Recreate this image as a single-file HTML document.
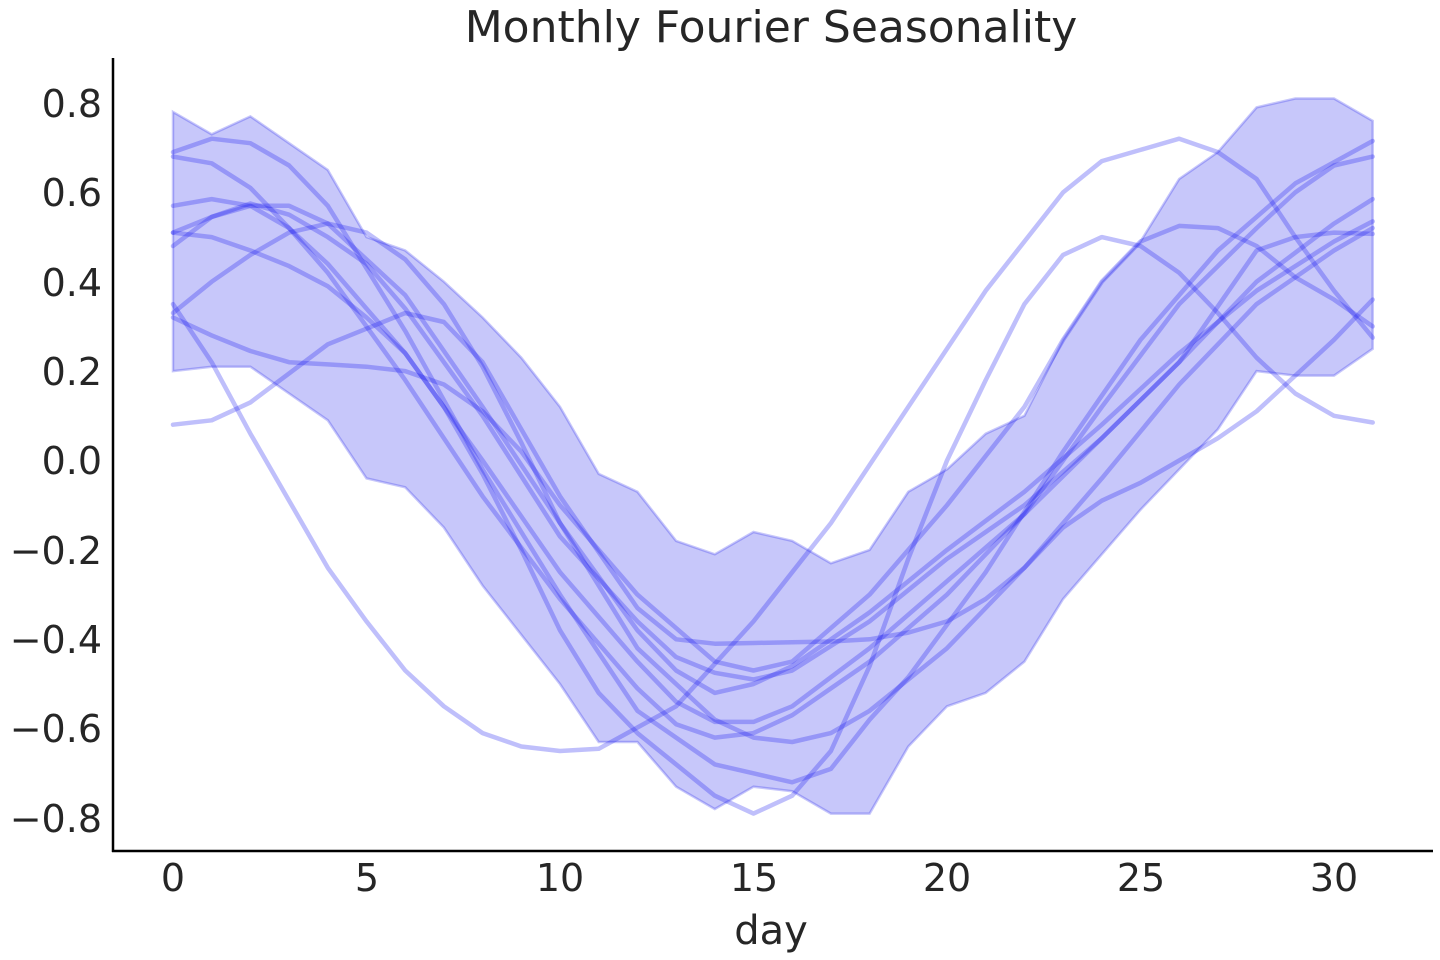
<!DOCTYPE html>
<html><head><meta charset="utf-8"><style>
html,body{margin:0;padding:0;background:#fff;}
svg{display:block;font-family:"DejaVu Sans","Liberation Sans",sans-serif;}
</style></head><body>
<svg id="s" width="1440" height="960" viewBox="0 0 1440 960" xmlns="http://www.w3.org/2000/svg">
<rect width="1440" height="960" fill="#fff"/>
<g id="plot"></g>
<line x1="113" y1="58" x2="113" y2="852" stroke="#000" stroke-width="2.5"/>
<line x1="112" y1="851" x2="1433" y2="851" stroke="#000" stroke-width="2.5"/>
<text x="771" y="42" font-size="44" text-anchor="middle" fill="#262626">Monthly Fourier Seasonality</text>
<text x="771" y="944" font-size="40" text-anchor="middle" fill="#262626">day</text>
<g font-size="38" fill="#262626" text-anchor="middle">
<text x="173" y="891">0</text><text x="367" y="891">5</text><text x="560" y="891">10</text>
<text x="754" y="891">15</text><text x="947" y="891">20</text><text x="1141" y="891">25</text><text x="1334" y="891">30</text>
</g>
<g font-size="38" fill="#262626" text-anchor="end">
<text x="102" y="117">0.8</text><text x="102" y="206">0.6</text><text x="102" y="296">0.4</text>
<text x="102" y="385">0.2</text><text x="102" y="474">0.0</text><text x="102" y="564">−0.2</text>
<text x="102" y="653">−0.4</text><text x="102" y="742">−0.6</text><text x="102" y="832">−0.8</text>
</g>
</svg>
<script>
(function(){
var X=function(d){return 173+d*38.7;},Y=function(v){return 460.5-v*446.9;};
var top=[.78,.73,.77,.71,.65,.50,.47,.40,.32,.23,.12,-.03,-.07,-.18,-.21,-.16,-.18,-.23,-.20,-.07,-.02,.06,.10,.27,.40,.49,.63,.69,.79,.81,.81,.76];
var bot=[.20,.21,.21,.15,.09,-.04,-.06,-.15,-.28,-.39,-.50,-.63,-.63,-.73,-.78,-.73,-.74,-.79,-.79,-.64,-.55,-.52,-.45,-.31,-.21,-.11,-.02,.07,.20,.19,.19,.25];
var L=[
[[0,.35],[1,.22],[2,.06],[3,-.09],[4,-.24],[5,-.36],[6,-.47],[7,-.55],[8,-.61],[9,-.64],[10,-.65],[11,-.645],[13,-.55],[15,-.36],[17,-.14],[19,.12],[21,.38],[23,.60],[24,.67],[26,.72],[27,.69],[28,.63],[29,.5],[30,.38],[31,.275]],
[[0,.08],[1,.09],[2,.13],[4,.26],[6,.33],[7,.31],[8,.22],[10,-.08],[12,-.33],[13,-.40],[14,-.41],[17,-.405],[18,-.40],[19,-.385],[20,-.36],[21,-.31],[22,-.24],[23,-.15],[24,-.09],[25,-.05],[26,0],[27,.05],[28,.11],[29,.19],[30,.27],[31,.36]],
[[0,.69],[1,.72],[2,.71],[3,.66],[4,.57],[6,.29],[8,-.02],[10,-.30],[12,-.56],[14,-.68],[16,-.72],[17,-.69],[18,-.58],[19,-.485],[21,-.25],[23,.02],[25,.27],[27,.47],[29,.62],[31,.715]],
[[0,.68],[1,.665],[2,.61],[3,.52],[4,.42],[6,.18],[8,-.08],[10,-.31],[12,-.51],[13,-.59],[14,-.62],[15,-.61],[16,-.57],[18,-.45],[20,-.3],[22,-.12],[24,.12],[26,.35],[28,.52],[29,.6],[30,.66],[31,.68]],
[[0,.57],[1,.585],[2,.57],[3,.52],[4,.44],[6,.24],[8,0],[10,-.25],[12,-.45],[13,-.54],[14,-.585],[15,-.585],[16,-.55],[18,-.42],[20,-.27],[22,-.12],[24,.05],[26,.22],[28,.4],[30,.53],[31,.585]],
[[0,.51],[1,.545],[2,.57],[3,.57],[4,.53],[6,.37],[8,.12],[10,-.14],[12,-.38],[13,-.47],[14,-.52],[15,-.5],[16,-.46],[18,-.34],[20,-.2],[22,-.07],[24,.08],[26,.24],[28,.38],[30,.49],[31,.535]],
[[0,.48],[1,.545],[2,.575],[3,.55],[4,.5],[5,.44],[6,.34],[8,.1],[10,-.17],[12,-.36],[13,-.44],[14,-.475],[15,-.49],[16,-.47],[18,-.36],[20,-.22],[22,-.1],[24,.05],[26,.22],[28,.47],[29,.5],[30,.51],[31,.507]],
[[0,.33],[1,.4],[2,.46],[3,.51],[4,.53],[5,.51],[6,.45],[7,.35],[8,.21],[9,.04],[10,-.14],[12,-.42],[14,-.58],[15,-.62],[16,-.63],[17,-.61],[18,-.56],[20,-.42],[22,-.24],[24,-.04],[26,.17],[28,.35],[30,.47],[31,.52]],
[[0,.32],[1,.28],[2,.245],[3,.22],[4,.215],[5,.21],[6,.20],[7,.17],[8,.11],[9,.02],[10,-.1],[12,-.3],[14,-.45],[15,-.47],[16,-.45],[18,-.3],[20,-.1],[22,.12],[23,.27],[24,.40],[25,.49],[26,.525],[27,.52],[28,.48],[29,.41],[30,.36],[31,.30]],
[[0,.51],[1,.50],[2,.47],[3,.435],[4,.39],[5,.32],[6,.24],[7,.12],[8,-.03],[9,-.2],[10,-.38],[11,-.52],[12,-.61],[13,-.68],[14,-.75],[15,-.79],[16,-.75],[17,-.65],[18,-.46],[19,-.22],[20,0],[21,.18],[22,.35],[23,.46],[24,.50],[25,.48],[26,.42],[27,.33],[28,.23],[29,.15],[30,.10],[31,.085]]
];
var g=document.getElementById('plot'),NS="http://www.w3.org/2000/svg";
var pts=[];for(var i=0;i<32;i++)pts.push(X(i).toFixed(1)+","+Y(top[i]).toFixed(1));
for(var i=31;i>=0;i--)pts.push(X(i).toFixed(1)+","+Y(bot[i]).toFixed(1));
var p=document.createElementNS(NS,'polygon');p.setAttribute('points',pts.join(' '));
p.setAttribute('fill','rgba(0,0,230,0.22)');p.setAttribute('stroke','rgba(0,0,230,0.22)');p.setAttribute('stroke-width','2.5');g.appendChild(p);
L.forEach(function(k){
 var s=[];
 for(var d=0;d<32;d++){var v;for(var j=0;j<k.length-1;j++){if(d>=k[j][0]&&d<=k[j+1][0]){var t=(d-k[j][0])/(k[j+1][0]-k[j][0]);v=k[j][1]+t*(k[j+1][1]-k[j][1]);break;}}
  s.push(X(d).toFixed(1)+","+Y(v).toFixed(1));}
 var l=document.createElementNS(NS,'polyline');l.setAttribute('points',s.join(' '));
 l.setAttribute('fill','none');l.setAttribute('stroke','rgba(20,20,240,0.27)');l.setAttribute('stroke-width','4.5');l.setAttribute('stroke-linejoin','round');l.setAttribute('stroke-linecap','round');
 g.appendChild(l);
});
})();
</script>
</body></html>
